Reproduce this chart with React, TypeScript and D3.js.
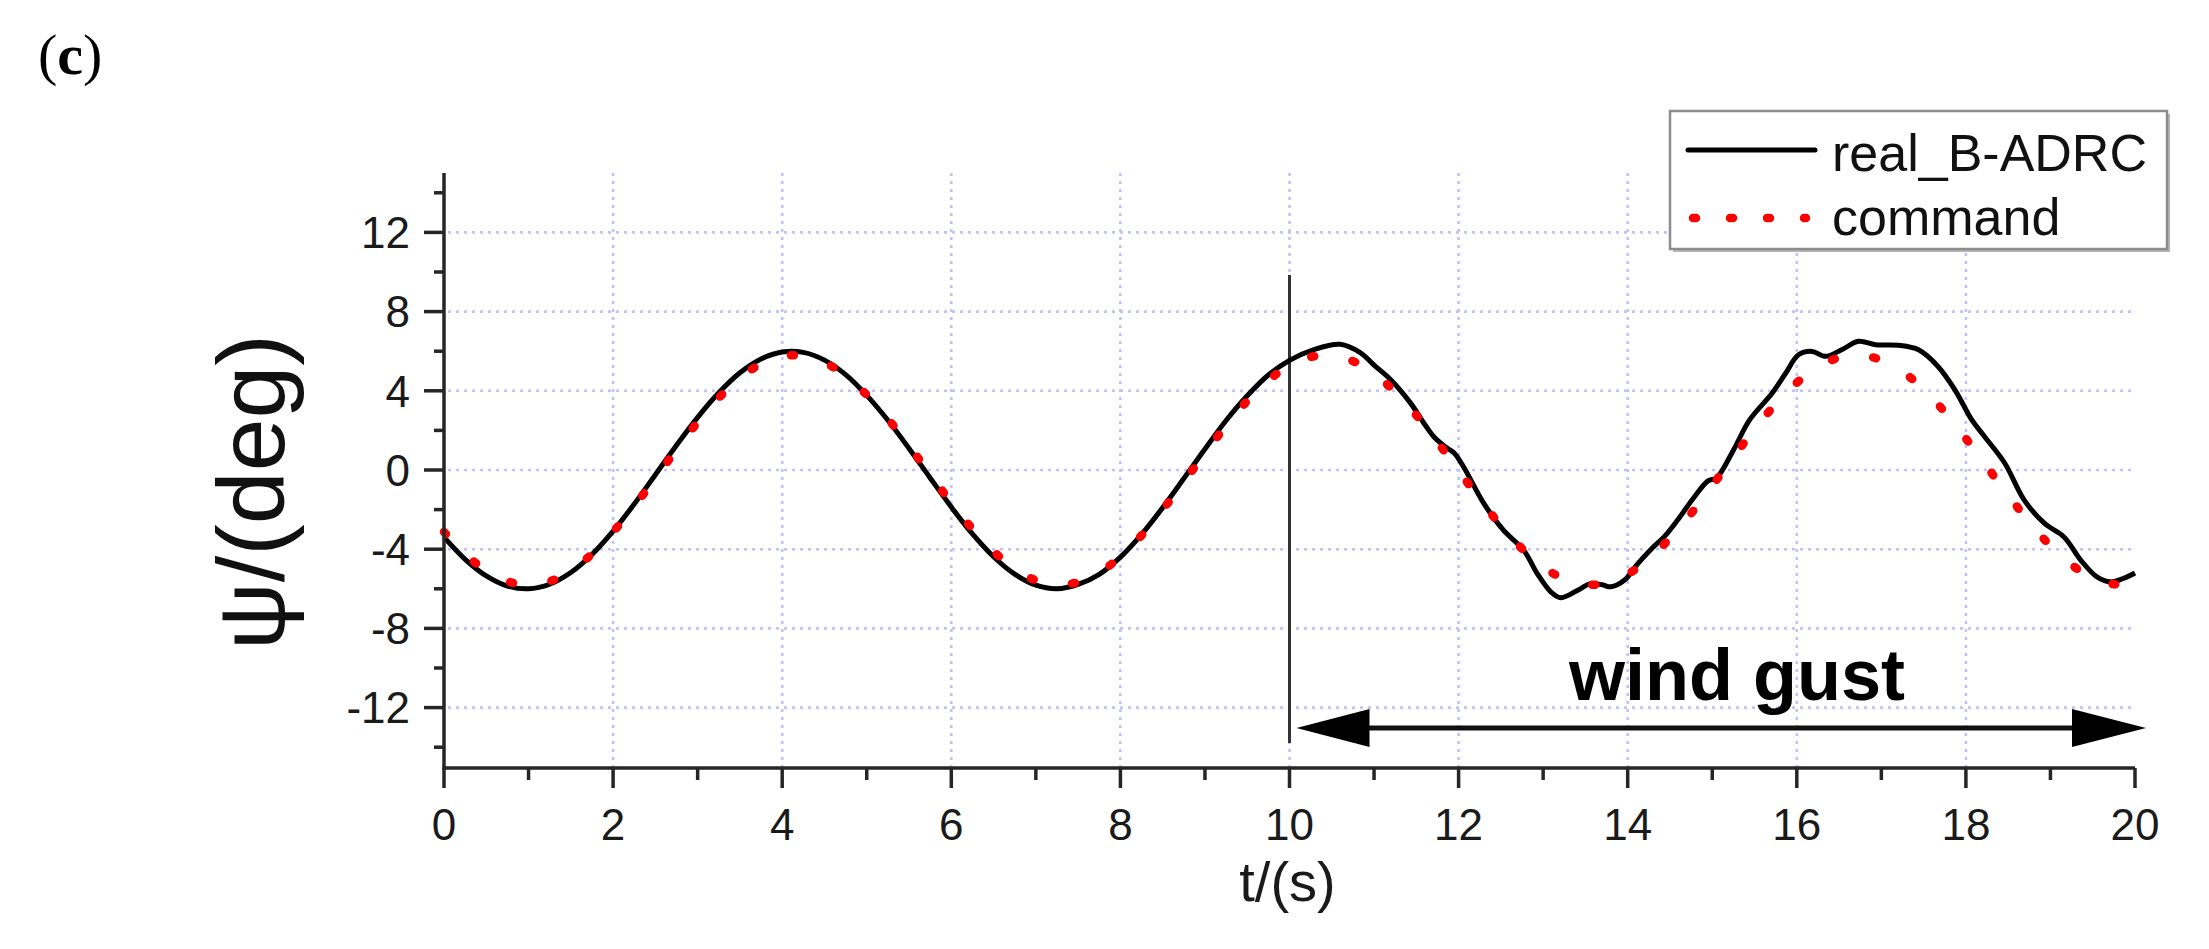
import React from 'react';
import * as d3 from 'd3';

// ---- data ----
const xTickValues = [0, 2, 4, 6, 8, 10, 12, 14, 16, 18, 20];
const xMinorTickValues = [1, 3, 5, 7, 9, 11, 13, 15, 17, 19];
const yTickValues = [-12, -8, -4, 0, 4, 8, 12];
const yMinorTickValues = [-14, -10, -6, -2, 2, 6, 10, 14];
const xGridValues = [2, 4, 6, 8, 10, 12, 14, 16, 18];

const commandTime = [
  0, 0.25, 0.5, 0.75, 1, 1.25, 1.5, 1.75, 2, 2.25, 2.5, 2.75, 3, 3.25, 3.5, 3.75,
  4, 4.25, 4.5, 4.75, 5, 5.25, 5.5, 5.75, 6, 6.25, 6.5, 6.75, 7, 7.25, 7.5, 7.75,
  8, 8.25, 8.5, 8.75, 9, 9.25, 9.5, 9.75, 10, 10.25, 10.5, 10.75, 11, 11.25, 11.5, 11.75,
  12, 12.25, 12.5, 12.75, 13, 13.25, 13.5, 13.75, 14, 14.25, 14.5, 14.75, 15, 15.25, 15.5, 15.75,
  16, 16.25, 16.5, 16.75, 17, 17.25, 17.5, 17.75, 18, 18.25, 18.5, 18.75, 19, 19.25, 19.5, 19.75, 20,
];
const commandValues = [
  -3.13, -4.24, -5.09, -5.62, -5.8, -5.62, -5.09, -4.24, -3.13, -1.83, -0.41, 1.03, 2.41, 3.64, 4.65, 5.36,
  5.74, 5.77, 5.43, 4.76, 3.79, 2.59, 1.22, -0.22, -1.65, -2.97, -4.11, -4.99, -5.57, -5.8, -5.66, -5.18,
  -4.37, -3.3, -2.01, -0.6, 0.84, 2.24, 3.49, 4.52, 5.28, 5.71, 5.78, 5.5, 4.87, 3.93, 2.76, 1.41,
  -0.03, -1.46, -2.81, -3.97, -4.89, -5.51, -5.79, -5.7, -5.26, -4.5, -3.44, -2.2, -0.79, 0.65, 2.06, 3.34,
  4.41, 5.2, 5.68, 5.79, 5.55, 4.97, 4.07, 2.93, 1.59, 0.16, -1.27, -2.63, -3.83, -4.79, -5.45, -5.77, -5.73,
];

const realTime = [
  0, 0.25, 0.5, 0.75, 1, 1.25, 1.5, 1.75, 2, 2.25, 2.5, 2.75, 3, 3.25, 3.5, 3.75,
  4, 4.25, 4.5, 4.75, 5, 5.25, 5.5, 5.75, 6, 6.25, 6.5, 6.75, 7, 7.25, 7.5, 7.75,
  8, 8.25, 8.5, 8.75, 9, 9.25, 9.5, 9.75, 10,
  10.28, 10.6, 10.84, 11, 11.2, 11.43, 11.6, 11.71, 11.85, 11.95, 12.06, 12.3, 12.53, 12.77, 12.93,
  13.09, 13.21, 13.41, 13.56, 13.7, 13.8, 13.96, 14.12, 14.3, 14.43, 14.59, 14.79, 14.95, 15.05,
  15.25, 15.44, 15.71, 15.87, 16.02, 16.18, 16.34, 16.53, 16.73, 16.93, 17.2, 17.44, 17.67, 17.87,
  18.07, 18.22, 18.46, 18.69, 18.93, 19.16, 19.36, 19.55, 19.71, 19.86, 20,
];
const realValues = [
  -3.39, -4.51, -5.35, -5.86, -6.0, -5.77, -5.18, -4.27, -3.09, -1.72, -0.24, 1.25, 2.66, 3.9, 4.91, 5.61,
  5.96, 5.94, 5.55, 4.82, 3.77, 2.51, 1.09, -0.4, -1.87, -3.23, -4.38, -5.26, -5.82, -6.0, -5.78, -5.27,
  -4.4, -3.25, -1.9, -0.43, 1.06, 2.5, 3.75, 4.8, 5.54,
  6.07, 6.35, 5.92, 5.3, 4.55, 3.39, 2.3, 1.67, 1.15, 0.85, 0.15, -1.7, -3.04, -4.05, -5.23,
  -6.15, -6.45, -6.07, -5.74, -5.8, -5.9, -5.57, -4.73, -3.9, -3.38, -2.53, -1.35, -0.55, -0.4,
  1.0, 2.52, 3.89, 4.9, 5.82, 5.99, 5.74, 6.07, 6.5, 6.33, 6.3, 6.07, 5.23, 4.05,
  2.53, 1.69, 0.34, -1.52, -2.7, -3.38, -4.56, -5.4, -5.65, -5.48, -5.2,
];

const seriesNames = ['real_B-ADRC', 'command'];
const gustStart = 10;
const gustEnd = 20;

const SANS = "'Liberation Sans', Arial, Helvetica, sans-serif";
const SERIF = "'Liberation Serif', 'Times New Roman', serif";

export default function App() {
  const W = 2209;
  const H = 949;
  const x = d3.scaleLinear().domain([0, 20]).range([444, 2135]);
  const y = d3.scaleLinear().domain([-15, 15]).range([767, 173]);

  const line = d3
    .line<[number, number]>()
    .x((d) => x(d[0]))
    .y((d) => y(d[1]))
    .curve(d3.curveCatmullRom.alpha(0.5));

  const realPts: [number, number][] = realTime.map((t, i) => [t, realValues[i]]);
  const cmdPts: [number, number][] = commandTime.map((t, i) => [t, commandValues[i]]);

  const axisY = 768;
  const axisX = 444;
  const gridColor = '#c2c2f7';
  const axisColor = '#262626';

  const xg = x(gustStart);
  const xe = x(gustEnd);
  const arrowY = 728;

  const legX = 1670;
  const legY = 111;
  const legW = 497;
  const legH = 138;

  return (
    <svg
      width={W}
      height={H}
      viewBox={`0 0 ${W} ${H}`}
      style={{ position: 'absolute', left: 0, top: 0, background: '#fff' }}
    >
      <rect x={0} y={0} width={W} height={H} fill="#fff" />

      {/* panel label */}
      <text x={38} y={74} fontFamily={SERIF} fontSize={58} fill="#000">
        (<tspan fontWeight="bold">c</tspan>)
      </text>

      {/* grid */}
      <g stroke={gridColor} strokeWidth={2.6} strokeDasharray="3 5" fill="none">
        {yTickValues.map((v) => (
          <line key={'hy' + v} x1={axisX + 4} x2={x(20)} y1={y(v)} y2={y(v)} />
        ))}
        {xGridValues.map((v) => (
          <line key={'vx' + v} x1={x(v)} x2={x(v)} y1={y(15)} y2={axisY} />
        ))}
      </g>

      {/* wind gust vertical marker */}
      <line x1={xg} x2={xg} y1={275} y2={743} stroke="#333" strokeWidth={3} />

      {/* series */}
      <path d={line(realPts) || ''} fill="none" stroke="#000" strokeWidth={5} strokeLinejoin="round" />
      <path
        d={line(cmdPts) || ''}
        fill="none"
        stroke="#ff0000"
        strokeWidth={8.5}
        strokeLinecap="round"
        strokeDasharray="3 39"
      />

      {/* axes */}
      <g stroke={axisColor} strokeWidth={3.5} fill="none">
        <line x1={axisX} x2={axisX} y1={y(15)} y2={axisY + 1.5} />
        <line x1={axisX - 1.5} x2={x(20)} y1={axisY} y2={axisY} />
        {yTickValues.map((v) => (
          <line key={'yt' + v} x1={axisX - 20} x2={axisX} y1={y(v)} y2={y(v)} />
        ))}
        {yMinorTickValues.map((v) => (
          <line key={'ymt' + v} x1={axisX - 10} x2={axisX} y1={y(v)} y2={y(v)} />
        ))}
        {xTickValues.map((v) => (
          <line key={'xt' + v} x1={x(v)} x2={x(v)} y1={axisY} y2={axisY + 20} />
        ))}
        {xMinorTickValues.map((v) => (
          <line key={'xmt' + v} x1={x(v)} x2={x(v)} y1={axisY} y2={axisY + 12} />
        ))}
      </g>

      {/* tick labels */}
      <g fontFamily={SANS} fontSize={44} fill="#1a1a1a">
        {yTickValues.map((v) => (
          <text key={'yl' + v} x={410} y={y(v)} dy="0.36em" textAnchor="end">
            {v}
          </text>
        ))}
        {xTickValues.map((v) => (
          <text key={'xl' + v} x={x(v)} y={840} textAnchor="middle">
            {v}
          </text>
        ))}
      </g>

      {/* axis titles */}
      <text x={x(10) - 2} y={901} fontFamily={SANS} fontSize={56} textAnchor="middle" fill="#1a1a1a">
        t/(s)
      </text>
      <text
        transform={`translate(284, 492) rotate(-90)`}
        fontFamily={SANS}
        fontSize={95}
        textAnchor="middle"
        fill="#111"
      >
        ψ/(deg)
      </text>

      {/* wind gust annotation */}
      <line x1={xg + 40} x2={xe - 40} y1={arrowY} y2={arrowY} stroke="#111" strokeWidth={5} />
      <path
        d={`M${xg + 7},${arrowY} L${xg + 80},${arrowY - 19} L${xg + 80},${arrowY + 19} Z`}
        fill="#000"
      />
      <path
        d={`M${xe + 11},${arrowY} L${xe - 63},${arrowY - 19} L${xe - 63},${arrowY + 19} Z`}
        fill="#000"
      />
      <text
        x={1737}
        y={700}
        fontFamily={SANS}
        fontSize={72}
        fontWeight="bold"
        textAnchor="middle"
        fill="#000"
      >
        wind gust
      </text>

      {/* legend */}
      <rect x={legX + 3} y={legY + 3} width={legW} height={legH} fill="#b5b5b5" />
      <rect x={legX} y={legY} width={legW} height={legH} fill="#fff" stroke="#8c8c8c" strokeWidth={2.5} />
      <line x1={1688} x2={1815} y1={150} y2={150} stroke="#000" strokeWidth={5} strokeLinecap="round" />
      <line
        x1={1693}
        x2={1806}
        y1={218}
        y2={218}
        stroke="#ff0000"
        strokeWidth={8.5}
        strokeLinecap="round"
        strokeDasharray="3 34"
      />
      <g fontFamily={SANS} fontSize={52} fill="#111">
        <text x={1832} y={171}>
          {seriesNames[0]}
        </text>
        <text x={1832} y={235}>
          {seriesNames[1]}
        </text>
      </g>
    </svg>
  );
}
